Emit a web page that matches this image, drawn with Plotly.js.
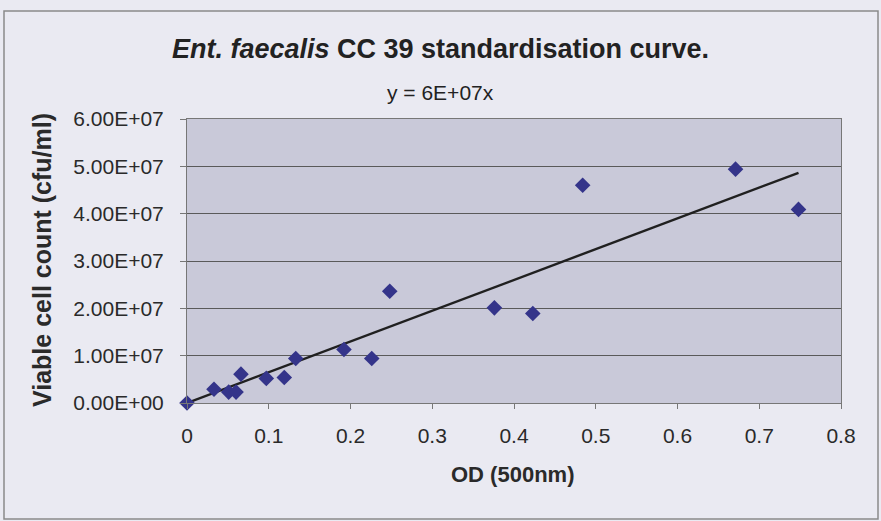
<!DOCTYPE html>
<html>
<head>
<meta charset="utf-8">
<script src="https://cdn.plot.ly/plotly-3.0.1.min.js"></script>
<style>html,body{margin:0;padding:0;background:#eaeaf2;}#chart{width:881px;height:521px;}</style>
</head>
<body>
<div id="chart"></div>
<script>
// Optical density readings (500 nm)
const odValues = [0, 0.033, 0.051, 0.060, 0.066, 0.097, 0.119, 0.133, 0.192, 0.226, 0.248, 0.376, 0.423, 0.484, 0.671, 0.748];
// Viable cell counts (cfu/ml)
const cellCounts = [0, 2.9e6, 2.3e6, 2.3e6, 6.1e6, 5.2e6, 5.4e6, 9.4e6, 1.13e7, 9.4e6, 2.36e7, 2.01e7, 1.89e7, 4.60e7, 4.94e7, 4.09e7];
const yTickVals = [0, 1e7, 2e7, 3e7, 4e7, 5e7, 6e7];
const yTickText = ["0.00E+00", "1.00E+07", "2.00E+07", "3.00E+07", "4.00E+07", "5.00E+07", "6.00E+07"];
const xTickVals = [0, 0.1, 0.2, 0.3, 0.4, 0.5, 0.6, 0.7, 0.8];
const xTickText = ["0", "0.1", "0.2", "0.3", "0.4", "0.5", "0.6", "0.7", "0.8"];
const chartTitle = "<b><i>Ent. faecalis</i> CC 39 standardisation curve.</b>";
const equationLabel = "y = 6E+07x";
const xTitle = "OD (500nm)";
const yTitle = "Viable cell count (cfu/ml)";

// Linear trendline through the origin (least squares)
let sxy = 0, sxx = 0;
for (let i = 0; i < odValues.length; i++) { sxy += odValues[i] * cellCounts[i]; sxx += odValues[i] * odValues[i]; }
const slope = sxy / sxx;
const xMax = Math.max(...odValues);
const trendX = [0, xMax];
const trendY = trendX.map(v => v * slope);

const FONT = "Liberation Sans, Arial, sans-serif";

const traces = [
  {x: trendX, y: trendY, mode: "lines", type: "scatter", line: {color: "#202020", width: 2.4}, hoverinfo: "skip", cliponaxis: false},
  {x: odValues, y: cellCounts, mode: "markers", type: "scatter", cliponaxis: false,
   marker: {symbol: "diamond", size: 12, color: "#34348a"}}
];

const layout = {
  width: 881, height: 521,
  margin: {l: 187, r: 40, t: 119, b: 118},
  paper_bgcolor: "#eaeaf2",
  plot_bgcolor: "#c9c9d9",
  showlegend: false,
  font: {family: FONT, color: "#2a2a2a", size: 21},
  title: {text: chartTitle, font: {family: FONT, size: 27, color: "#222"}, x: 0.5, xref: "container", y: 1 - 49/521, yref: "container", yanchor: "middle", xanchor: "center"},
  xaxis: {range: [0, 0.8], tickvals: xTickVals, ticktext: xTickText, ticks: "outside", ticklen: 5, tickcolor: "#777",
          showgrid: false, zeroline: false, showline: true, linecolor: "#777", linewidth: 1, mirror: true,
          tickfont: {family: FONT, size: 21, color: "#2a2a2a"}, ticklabelstandoff: 9},
  yaxis: {range: [0, 6e7], tickvals: yTickVals, ticktext: yTickText, ticks: "outside", ticklen: 6, tickcolor: "#777",
          showgrid: true, gridcolor: "#5a5a5a", gridwidth: 1, zeroline: false, showline: true, linecolor: "#777", linewidth: 1, mirror: true,
          tickfont: {family: FONT, size: 21, color: "#2a2a2a"}, ticklabelstandoff: 12},
  annotations: [
    {text: equationLabel, xref: "paper", yref: "paper", x: (440 - 187) / 654, y: (403 - 93) / 284, xanchor: "center", yanchor: "middle", showarrow: false, font: {family: FONT, size: 21, color: "#222"}},
    {text: "<b>" + xTitle + "</b>", xref: "paper", yref: "paper", x: (512 - 187) / 654, y: (403 - 474) / 284, xanchor: "center", yanchor: "middle", showarrow: false, font: {family: FONT, size: 22, color: "#2a2a2a"}},
    {text: "<b>" + yTitle + "</b>", xref: "paper", yref: "paper", x: (42 - 187) / 654, y: (403 - 260) / 284, xanchor: "center", yanchor: "middle", textangle: -90, showarrow: false, font: {family: FONT, size: 25, color: "#2a2a2a"}}
  ],
  shapes: [
    {type: "rect", xref: "paper", yref: "paper", x0: (4 - 187) / 654, x1: (878 - 187) / 654, y0: (403 - 519) / 284, y1: (403 - 11) / 284,
     line: {color: "#8a8a8a", width: 1.5}, fillcolor: "rgba(0,0,0,0)", layer: "below"}
  ]
};

Plotly.newPlot("chart", traces, layout, {displayModeBar: false, staticPlot: true});
</script>
</body>
</html>
